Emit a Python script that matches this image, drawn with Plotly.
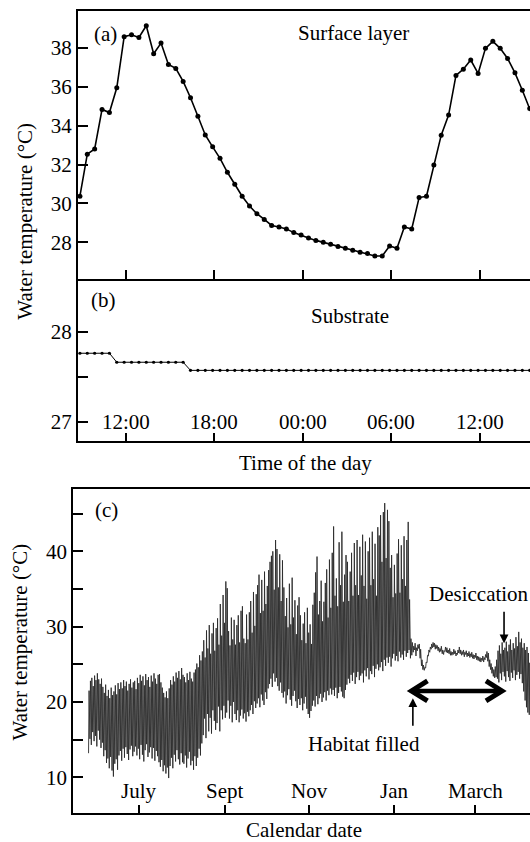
import plotly.graph_objects as go
import pandas as pd

# ---------------- data ----------------
# Panels (a) and (b): half-hourly readings over ~31 h
START_HOUR = 8.9
STEP_HOURS = 0.5
SURFACE_TEMP = [
    30.37, 32.53, 32.80, 34.83, 34.67, 35.94, 38.57, 38.67, 38.53, 39.13,
    37.69, 38.24, 37.14, 36.94, 36.27, 35.43, 34.48, 33.52, 32.91, 32.32,
    31.60, 30.98, 30.37, 29.87, 29.47, 29.18, 28.87, 28.79, 28.69, 28.50,
    28.38, 28.22, 28.10, 28.00, 27.90, 27.79, 27.69, 27.59, 27.49, 27.42,
    27.30, 27.30, 27.81, 27.69, 28.79, 28.69, 30.30, 30.37, 31.98, 33.51,
    34.54, 36.58, 36.90, 37.37, 36.68, 37.97, 38.33, 37.97, 37.45, 36.71,
    35.82, 34.88, 33.90,
]
SUBSTRATE_TEMP = [
    27.76, 27.76, 27.76, 27.76, 27.76, 27.66, 27.66, 27.66, 27.66, 27.66,
    27.66, 27.66, 27.66, 27.66, 27.66, 27.57, 27.57, 27.57, 27.57, 27.57,
    27.57, 27.57, 27.57, 27.57, 27.57, 27.57, 27.57, 27.57, 27.57, 27.57,
    27.57, 27.57, 27.57, 27.57, 27.57, 27.57, 27.57, 27.57, 27.57, 27.57,
    27.57, 27.57, 27.57, 27.57, 27.57, 27.57, 27.57, 27.57, 27.57, 27.57,
    27.57, 27.57, 27.57, 27.57, 27.57, 27.57, 27.57, 27.57, 27.57, 27.57,
    27.57, 27.57, 27.57,
]
TIME_TICKS = [12, 18, 24, 30, 36]
TIME_LABELS = ["12:00", "18:00", "00:00", "06:00", "12:00"]

# Panel (c): daily minimum (early morning) and maximum (afternoon)
RECORD_START = "2010-05-25"
MIN_HOUR = 6
MAX_HOUR = 15
DAILY_MAX = [
    21.5, 22.8, 23.2, 22.1, 23.5, 22.9, 23.8, 23.0, 22.4, 23.1, 22.0,
    21.2, 22.3, 20.8, 21.6, 20.5, 21.9, 20.9, 21.4, 22.2, 21.0, 22.5, 21.7,
    22.6, 21.8, 22.9, 22.1, 22.7, 21.5, 22.4, 23.0, 21.9, 22.6, 22.8, 21.7,
    23.2, 22.5, 23.6, 22.8, 23.4, 22.2, 23.7, 22.9, 23.3, 22.0, 23.5, 22.7, 23.8, 23.1, 22.4, 23.6,
    23.7, 22.6, 21.9, 21.2, 20.6, 21.4, 20.5,
    21.8, 22.9, 22.3, 23.4, 22.7, 23.9, 23.2, 24.1, 23.0, 24.5, 23.6,
    23.3, 22.6, 23.8, 22.9, 24.0, 23.1, 22.7, 23.9, 24.3,
    25.1, 24.6, 26.2, 25.5, 26.7,
    28.2, 25.9, 29.5, 27.1, 30.2, 26.4, 29.1, 30.5, 26.8, 29.8,
    31.1, 27.6, 33.0, 28.8, 34.2, 30.5,
    36.0, 35.1, 29.4, 27.5, 31.2, 28.3, 30.9, 27.6,
    30.2, 31.5, 27.9, 32.1, 32.7, 28.4, 27.8, 31.6, 28.3, 31.9,
    33.4, 29.2, 34.6, 30.1, 34.3,
    35.5, 36.9, 31.8, 36.2, 32.1, 37.3, 33.0, 35.4, 37.5,
    38.6, 39.4, 40.0, 34.9, 41.5,
    40.3, 35.2, 39.6, 33.4, 38.8,
    35.2, 31.4, 33.8, 29.9, 35.7, 30.3, 36.5, 31.2, 33.5, 29.0, 32.8, 33.9,
    31.5, 28.2, 30.4, 31.9, 27.8, 32.5, 29.2, 30.3, 27.7, 32.9,
    34.5, 37.2, 39.3, 31.6, 33.4, 36.1, 30.7,
    33.3, 35.8, 37.6, 31.2, 38.9, 32.5, 39.8,
    43.3, 34.1, 36.4, 32.7, 41.2, 35.5, 42.6, 33.3, 36.9, 39.5,
    38.6, 33.4, 37.3, 39.8, 34.1, 41.1, 35.5, 41.5, 34.2, 40.6, 36.8,
    42.2, 35.4, 41.3, 33.7, 40.0, 41.8, 35.5, 42.6, 36.3, 41.0, 34.1, 43.2, 42.1,
    44.8, 38.6, 45.2, 46.4, 39.1, 45.5,
    44.0, 37.8, 39.5, 33.9, 38.2, 34.4,
    39.7, 41.6, 34.5, 40.8, 36.3, 42.0, 35.4, 41.5, 43.9, 33.6,
    # habitat filled
    28.4, 27.9, 27.4, 27.8, 27.2, 27.6, 27.7, 27.0, 25.6, 24.9,
    24.6, 25.3, 26.2, 26.9, 27.3, 27.7, 27.9, 27.8, 27.6, 27.5,
    27.3, 27.1, 27.4, 26.9, 26.8, 27.3, 27.2, 26.9, 27.1, 26.7,
    26.6, 27.0, 26.8, 26.5, 26.9, 27.3, 26.9, 26.7, 26.9, 26.6,
    26.8, 26.5, 26.7, 26.4, 26.6, 26.3, 26.2, 26.5, 26.1, 26.0,
    25.9, 25.8, 26.1, 25.9, 26.3, 26.7, 26.5, 25.6, 25.1, 24.6,
    24.3, 24.7, 25.6,
    # desiccation
    26.8, 27.5, 26.4, 27.9, 26.9, 27.2, 28.0, 26.7, 27.6, 28.3,
    26.9, 27.8, 27.1, 28.6, 27.4, 29.3, 27.9, 28.4, 27.2, 27.8,
    26.9, 27.3, 26.5, 25.2, 24.6,
]
DAILY_MIN = [
    13.2, 15.1, 14.3, 16.0, 14.8, 15.5, 14.1, 16.2, 15.0, 13.9, 14.6,
    12.8, 13.6, 11.9, 12.5, 11.2, 12.7, 10.9, 10.1, 11.8, 12.4, 11.0, 12.9,
    13.5, 12.2, 13.8, 12.6, 14.0, 13.1, 12.3, 13.7, 14.2, 12.8, 13.4, 14.1,
    12.9, 13.8, 12.4, 14.3, 13.0, 12.1, 13.6, 14.4, 12.7, 13.3, 14.0, 12.5, 13.9, 12.2, 13.5, 12.8,
    12.0, 11.4, 12.3, 10.8, 11.6, 10.5, 11.3,
    9.9, 11.5, 12.6, 11.2, 13.0, 12.1, 13.6, 12.4, 11.7, 13.2, 12.0,
    11.8, 12.9, 11.3, 12.5, 13.4, 11.6, 12.2, 11.0, 12.8,
    11.5, 12.6, 13.8, 12.9, 14.5,
    15.6, 17.8, 15.2, 18.4, 16.1, 17.9, 15.8, 18.9, 17.5, 16.3,
    17.2, 19.4, 16.1, 18.9, 17.7, 19.5,
    17.9, 18.6, 20.2, 17.8, 19.5, 17.3, 20.0, 18.4,
    17.6, 18.9, 17.3, 18.2, 19.0, 17.8, 18.5, 17.4, 18.7, 18.1,
    18.9, 19.6, 18.4, 20.1, 19.2,
    19.8, 20.5, 19.3, 21.0, 20.2, 19.6, 21.3, 20.4, 21.8,
    22.4, 23.1, 22.0, 23.8, 22.7,
    23.2, 22.1, 21.5, 22.6, 21.2,
    20.6, 21.4, 19.8, 20.9, 21.7, 20.3, 19.5, 20.8, 21.5, 20.1, 19.2, 20.4,
    19.6, 20.5, 18.9, 19.8, 20.7, 19.1, 18.4, 17.9, 18.8, 19.5,
    20.2, 19.4, 20.8, 19.7, 20.5, 21.1, 20.0,
    20.6, 21.3, 20.2, 21.5, 20.9, 21.8, 21.0,
    21.6, 20.8, 21.9, 20.5, 21.2, 22.0, 21.4, 20.7, 20.5, 21.6,
    22.3, 23.1, 22.5, 23.6, 22.8, 23.9, 22.4, 23.3, 24.0, 22.9, 23.5,
    23.8, 22.6, 24.2, 23.4, 24.5, 23.0, 24.1, 23.7, 24.8, 23.3, 24.4, 25.0, 24.2,
    24.6, 25.3, 24.1, 25.6, 24.8, 25.9,
    25.2, 26.0, 24.7, 25.8, 26.4, 25.5,
    26.1, 25.4, 26.7, 25.9, 26.3, 25.6, 26.8, 26.0, 26.5, 26.9,
    # habitat filled
    25.8, 26.2, 26.6, 26.9, 26.1, 26.8, 27.1, 25.8, 24.8, 24.3,
    24.2, 24.5, 25.2, 26.1, 26.6, 27.0, 27.2, 27.3, 27.0, 27.1,
    26.8, 26.6, 26.7, 26.4, 26.3, 26.7, 26.6, 26.5, 26.4, 26.2,
    26.2, 26.3, 26.4, 26.1, 26.3, 26.5, 26.4, 26.2, 26.3, 26.0,
    26.3, 26.0, 26.1, 25.9, 26.0, 25.8, 25.7, 25.9, 25.6, 25.5,
    25.4, 25.3, 25.5, 25.3, 25.6, 25.9, 25.4, 24.7, 24.3, 23.8,
    23.4, 23.2, 23.3,
    # desiccation
    23.1, 22.6, 23.8, 22.9, 24.0, 23.4, 22.7, 24.1, 23.3, 22.8,
    23.9, 23.2, 24.2, 22.9, 23.6, 24.0, 23.1, 23.7, 22.5, 21.4,
    20.2, 19.3, 18.6, 18.3, 18.5,
]
DATE_TICKS = ["2010-07-01", "2010-09-01", "2010-11-01", "2011-01-01", "2011-03-01"]
DATE_LABELS = ["July", "Sept", "Nov", "Jan", "March"]
HABITAT_FILLED = "2011-01-15"
FILLED_START = "2011-01-14"
FILLED_END = "2011-03-20 12:00"
DESICCATION = "2011-03-22"

assert len(DAILY_MAX) == len(DAILY_MIN)

# ---------------- build ----------------
W, H = 530, 842
FONT = "Liberation Serif"
FS = 21


def px(xp):
    return xp / W


def py(yp):
    return 1 - yp / H


hours = [START_HOUR + STEP_HOURS * i for i in range(len(SURFACE_TEMP))]

days = pd.date_range(RECORD_START, periods=len(DAILY_MAX), freq="D")
cx, cy = [], []
for d, lo, hi in zip(days, DAILY_MIN, DAILY_MAX):
    cx += [d + pd.Timedelta(hours=MIN_HOUR), d + pd.Timedelta(hours=MAX_HOUR)]
    cy += [lo, hi]

fig = go.Figure()
fig.add_trace(go.Scatter(x=hours, y=SURFACE_TEMP, mode="lines+markers",
                         line=dict(color="black", width=1.6),
                         marker=dict(size=5, color="black"),
                         xaxis="x", yaxis="y", showlegend=False))
fig.add_trace(go.Scatter(x=hours, y=SUBSTRATE_TEMP, mode="lines+markers",
                         line=dict(color="black", width=1),
                         marker=dict(size=3.2, color="black"),
                         xaxis="x2", yaxis="y2", showlegend=False))
fig.add_trace(go.Scatter(x=cx, y=cy, mode="lines",
                         line=dict(color="#2a2a2a", width=0.9),
                         xaxis="x3", yaxis="y3", showlegend=False))

tickfont = dict(family=FONT, size=FS, color="black")
common = dict(showline=True, linecolor="black", linewidth=2, ticks="inside",
              ticklen=10, tickwidth=2, tickcolor="black", showgrid=False,
              zeroline=False, tickfont=tickfont)

fig.update_layout(
    width=W, height=H,
    margin=dict(l=0, r=0, t=0, b=0),
    paper_bgcolor="white", plot_bgcolor="white",
    font=dict(family=FONT, size=FS, color="black"),
    showlegend=False,
    xaxis=dict(domain=[px(78), 1], range=[8.77, 39.42], anchor="y",
               tickvals=TIME_TICKS, showticklabels=False, mirror=True,
               **{**common, "ticklen": 9}),
    yaxis=dict(domain=[py(279.3), py(11)], range=[26.10, 39.89], anchor="x",
               tickvals=[28, 30, 32, 34, 36, 38], **common),
    xaxis2=dict(domain=[px(78), 1], range=[8.77, 39.42], anchor="y2",
                tickvals=TIME_TICKS, showticklabels=False,
                **{**common, "ticklen": 8}),
    yaxis2=dict(domain=[py(440.7), py(279.3)], range=[26.79, 28.58], anchor="x2",
                tickvals=[27, 27.5, 28], ticktext=["27", "", "28"], **common),
    xaxis3=dict(domain=[px(73.3), 1], type="date",
                range=["2010-05-14 05:00", "2011-04-09 19:00"], anchor="y3",
                tickvals=DATE_TICKS, showticklabels=False, mirror=True,
                **{**common, "ticklen": 8}),
    yaxis3=dict(domain=[py(813), py(489)], range=[5.26, 48.27], anchor="x3",
                tickvals=[10, 15, 20, 25, 30, 35, 40, 45],
                ticktext=["10", "", "20", "", "30", "", "40", ""], **common),
)

ann = []


def label(text, x, y, xanchor="center", angle=0):
    ann.append(dict(text=text, x=px(x), y=py(y), xref="paper", yref="paper",
                    xanchor=xanchor, yanchor="middle", showarrow=False,
                    textangle=angle, font=dict(family=FONT, size=FS, color="black")))


label("(a)", 92, 34, "left")
label("Surface layer", 353.5, 33)
label("(b)", 89.3, 299.7, "left")
label("Substrate", 349.5, 315.5)
label("Time of the day", 305.5, 463)
label("(c)", 93.3, 510.5, "left")
label("Calendar date", 303.5, 829.5)
label("Water temperature (°C)", 25, 221.7, angle=-90)
label("Water temperature (°C)", 19.5, 642, angle=-90)
label("Desiccation", 427, 594, "left")
label("Habitat filled", 364, 744)

# x tick labels drawn inside the plot area, above the bottom axis line
for t, lab in zip(TIME_TICKS, TIME_LABELS):
    ann.append(dict(text=lab, x=t, xref="x2", y=py(422), yref="paper",
                    xanchor="center", yanchor="middle", showarrow=False,
                    font=tickfont))
for t, lab in zip(DATE_TICKS, DATE_LABELS):
    ann.append(dict(text=lab, x=t, xref="x3", y=py(791), yref="paper",
                    xanchor="center", yanchor="middle", showarrow=False,
                    font=tickfont))

# arrows in panel (c)
ann.append(dict(text="", x=DESICCATION, y=27.8, xref="x3", yref="y3",
                ax=0, ay=-33, showarrow=True, arrowhead=2, arrowsize=1.1,
                arrowwidth=1.6, arrowcolor="black", standoff=0, startstandoff=0))
ann.append(dict(text="", x=HABITAT_FILLED, y=20.5, xref="x3", yref="y3",
                ax=0, ay=29, showarrow=True, arrowhead=2, arrowsize=1.1,
                arrowwidth=1.6, arrowcolor="black", standoff=0, startstandoff=0))
fig.update_layout(annotations=ann)

arrow_y = 21.47
shapes = [
    dict(type="line", xref="x3", yref="y3", x0=FILLED_START, x1=FILLED_END,
         y0=arrow_y, y1=arrow_y, line=dict(color="black", width=4.5)),
    dict(type="path", xref="x3", yref="y3", xsizemode="pixel", ysizemode="pixel",
         xanchor=FILLED_START, yanchor=arrow_y, path="M 16,10 L 0,0 L 16,-10",
         line=dict(color="black", width=5)),
    dict(type="path", xref="x3", yref="y3", xsizemode="pixel", ysizemode="pixel",
         xanchor=FILLED_END, yanchor=arrow_y, path="M -16,10 L 0,0 L -16,-10",
         line=dict(color="black", width=5)),
]
fig.update_layout(shapes=shapes)

fig.write_html(
    "out.html",
    config={"displayModeBar": False, "staticPlot": True},
    post_script="document.body.style.margin='0';document.body.style.padding='0';",
)
